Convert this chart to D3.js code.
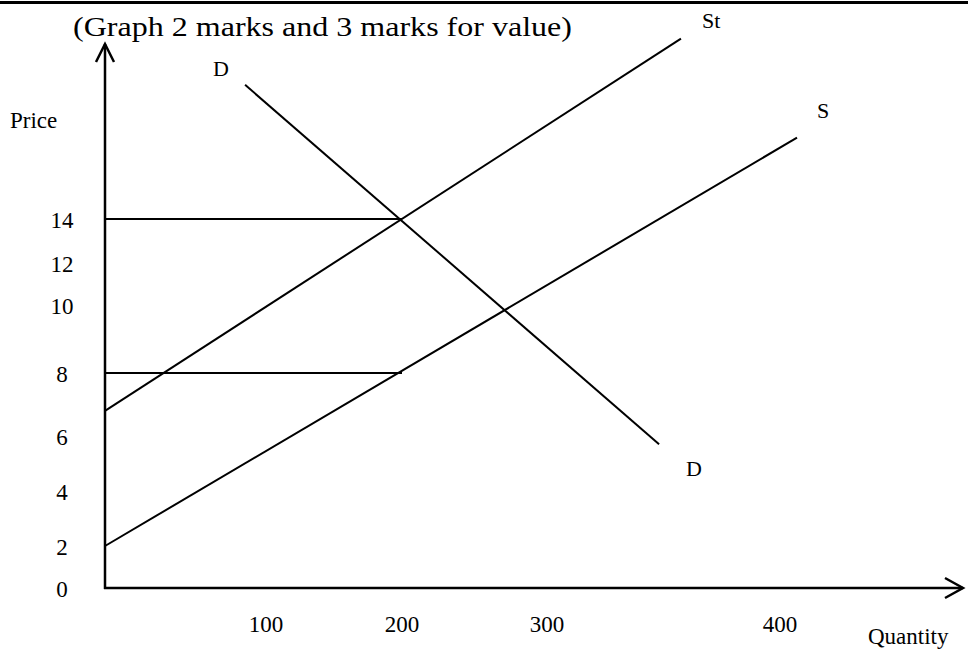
<!DOCTYPE html>
<html><head><meta charset="utf-8">
<script src="https://cdn.jsdelivr.net/npm/d3@7"></script>
<style>html,body{margin:0;padding:0;background:#fff;}svg{display:block;font-family:"Liberation Serif","Times New Roman",serif;}</style>
</head><body>
<svg id="c" width="968" height="649"></svg>
<script>
// ---- data ----
const title = "(Graph 2 marks and 3 marks for value)";
const priceTicks = [0, 2, 4, 6, 8, 10, 12, 14];
const quantityTicks = [100, 200, 300, 400];
const yLabel = "Price";
const xLabel = "Quantity";
// curves as [quantity, price] end points
const supplyTax = [[0, 6.8], [357.5, 22.2]];   // St
const supply = [[0, 2], [407.3, 17.7]];        // S
const demand = [[87, 20.1], [348.1, 5.7]];     // D
const priceLine14 = [[0, 14], [200, 14]];
const priceLine8 = [[0, 8], [200, 8]];

// ---- layout ----
const svg = d3.select("#c");
const x = d3.scaleLinear().domain([0, 100, 200, 300, 400]).range([105, 266, 402, 547, 780]);
const y = d3.scaleLinear().domain(priceTicks).range([588, 546, 491, 436, 373, 305, 263, 219]);

// top rule
svg.append("rect").attr("x", 0).attr("y", 1).attr("width", 968).attr("height", 3).attr("fill", "#000");

const line = d3.line().x(d => x(d[0])).y(d => y(d[1]));
const ink = "#000";

// axes
const x0 = x(0), y0 = y(0);
svg.append("line").attr("x1", x0).attr("y1", y0 + 1).attr("x2", x0).attr("y2", 44)
  .attr("stroke", ink).attr("stroke-width", 2.5);
svg.append("path").attr("d", `M${x0 - 9},${62} L${x0},${44} L${x0 + 9},${62}`)
  .attr("fill", "none").attr("stroke", ink).attr("stroke-width", 2.5);
svg.append("line").attr("x1", x0 - 1).attr("y1", y0).attr("x2", 963).attr("y2", y0)
  .attr("stroke", ink).attr("stroke-width", 2.5);
svg.append("path").attr("d", `M945,${y0 - 10} L963,${y0} L945,${y0 + 10}`)
  .attr("fill", "none").attr("stroke", ink).attr("stroke-width", 2.5);

// lines
[priceLine14, priceLine8, supplyTax, supply, demand].forEach(d => {
  svg.append("path").attr("d", line(d)).attr("fill", "none").attr("stroke", ink).attr("stroke-width", 2);
});

// tick labels
svg.append("g").selectAll("text").data(priceTicks).join("text")
  .attr("x", 62).attr("y", d => y(d) + 1).attr("text-anchor", "middle")
  .attr("dominant-baseline", "central").attr("font-size", 23).text(d => d);
svg.append("g").selectAll("text").data(quantityTicks).join("text")
  .attr("x", d => x(d)).attr("y", 632).attr("text-anchor", "middle")
  .attr("font-size", 23).text(d => d);

// labels
svg.append("text").attr("x", 10).attr("y", 128).attr("font-size", 23).text(yLabel);
svg.append("text").attr("x", 868).attr("y", 644).attr("font-size", 23).text(xLabel);
svg.append("text").attr("x", 73).attr("y", 36).attr("font-size", 28)
  .attr("textLength", 499).attr("lengthAdjust", "spacingAndGlyphs").text(title);
svg.append("text").attr("x", x(supplyTax[1][0]) + 21).attr("y", 28).attr("font-size", 22).text("St");
svg.append("text").attr("x", x(supply[1][0]) + 20).attr("y", 118).attr("font-size", 22).text("S");
svg.append("text").attr("x", x(demand[0][0]) - 32).attr("y", 76).attr("font-size", 22).text("D");
svg.append("text").attr("x", x(demand[1][0]) + 27).attr("y", 476).attr("font-size", 22).text("D");
</script>
</body></html>
